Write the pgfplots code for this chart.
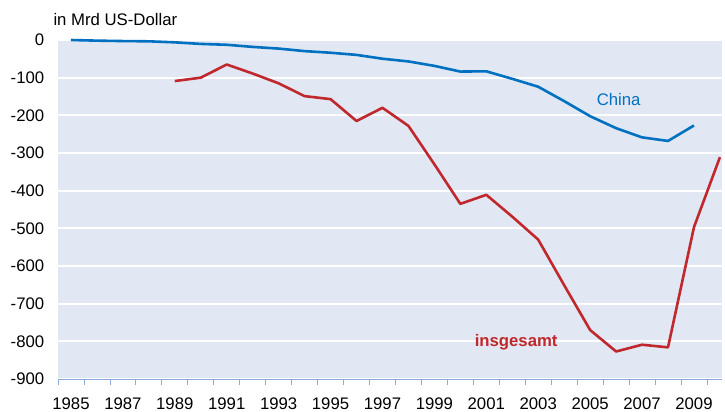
\documentclass[border=0pt]{standalone}
\usepackage{fontspec}
\setmainfont{Liberation Sans}
\usepackage{pgfplots}
\pgfplotsset{compat=1.18}
\definecolor{bgc}{RGB}{225,232,243}
\definecolor{cblue}{RGB}{0,112,192}
\definecolor{cred}{RGB}{192,40,45}
\definecolor{axc}{RGB}{142,169,219}
\begin{document}
\begin{tikzpicture}
\path[use as bounding box] (-58bp,-33bp) rectangle (667bp,379bp);
\begin{axis}[
  at={(0,0)}, anchor=south west,
  scale only axis, width=664bp, height=339bp,
  xmin=1984.5, xmax=2010.08, ymin=-900, ymax=0,
  axis background/.style={fill=bgc},
  axis line style={draw=none},
  axis x line*=bottom, axis y line*=left,
  x axis line style={draw=axc, line width=0.8bp},
  xtick={1985,1987,...,2009},
  xticklabels={1985,1987,1989,1991,1993,1995,1997,1999,2001,2003,2005,2007,2009},
  major x tick style={draw=none},
  minor xtick={1984.5,1985.5,...,2009.5},
  minor x tick style={draw=axc, line width=0.8bp},
  minor tick length=6bp,
  tick align=outside,
  ytick={-900,-800,...,0},
  yticklabels={-900,-800,-700,-600,-500,-400,-300,-200,-100,0},
  major y tick style={draw=none},
  ymajorgrids, grid style={white, line width=2bp},
  tick label style={font=\fontsize{16.8}{19}\selectfont},
  yticklabel style={anchor=east, xshift=-6bp},
  xticklabel style={anchor=base, yshift=-26bp},
  clip=false,
]
\addplot[cblue, line width=2.6bp, line join=round] coordinates {
(1985,0) (1986,-1.7) (1987,-2.8) (1988,-3.5) (1989,-6.2) (1990,-10.4)
(1991,-12.7) (1992,-18.3) (1993,-22.8) (1994,-29.5) (1995,-33.8) (1996,-39.5)
(1997,-49.7) (1998,-56.9) (1999,-68.7) (2000,-83.8) (2001,-83.1) (2002,-103.1)
(2003,-124.1) (2004,-162.3) (2005,-202.3) (2006,-234.1) (2007,-258.5) (2008,-268.0)
(2009,-226.9)};
\addplot[cred, line width=2.6bp, line join=round] coordinates {
(1989,-109) (1990,-100) (1991,-65) (1992,-89) (1993,-115) (1994,-149)
(1995,-157) (1996,-215) (1997,-180) (1998,-228) (1999,-330) (2000,-435)
(2001,-411) (2002,-469) (2003,-530) (2004,-651) (2005,-770) (2006,-827)
(2007,-809) (2008,-816) (2009,-497) (2010,-311)};
\node[text=cblue, font=\fontsize{16.8}{19}\selectfont] at (axis cs:2006.1,-159) {China};
\node[text=cred, font=\fontsize{16.8}{19}\selectfont\bfseries] at (axis cs:2002.15,-801) {insgesamt};
\node[anchor=west, font=\fontsize{16.8}{19}\selectfont] at ([xshift=-8bp, yshift=20bp]rel axis cs:0,1) {in Mrd US-Dollar};
\end{axis}
\end{tikzpicture}
\end{document}
